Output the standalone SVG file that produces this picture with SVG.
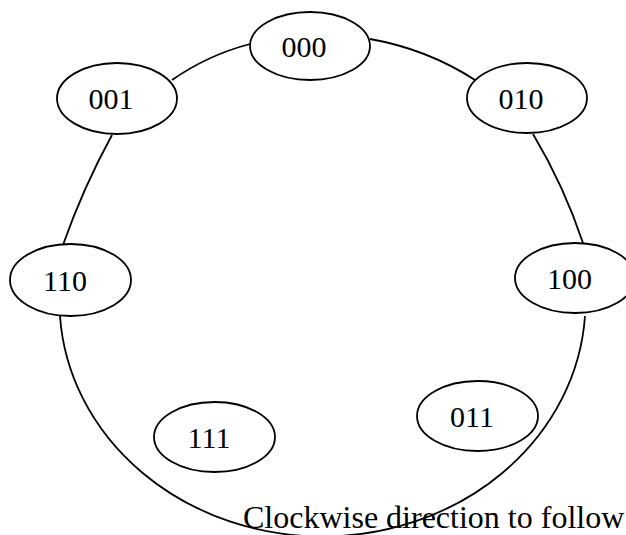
<svg xmlns="http://www.w3.org/2000/svg" width="626" height="535" viewBox="0 0 626 535">
<style>
.n ellipse{fill:#fff;stroke:#000;stroke-width:1.8}
.n text{font-family:"Liberation Serif","Times New Roman",serif;font-size:30px;fill:#000;text-anchor:middle}
.c path{fill:none;stroke:#000;stroke-width:1.8}
.cap{font-family:"Liberation Serif","Times New Roman",serif;font-size:32px;fill:#000}
</style>
<rect width="626" height="535" fill="#fff"/>
<g id="connectors" class="c">
<path d="M172 80 Q208 55 250 44"/>
<path d="M370 39 Q427 49 475 80"/>
<path d="M112 135 Q83 188 63 245"/>
<path d="M533 134 Q564 186 583 243"/>
<path d="M60 316 A263 235 0 0 0 585 316"/>
</g>
<g id="n000" class="n"><ellipse cx="310" cy="46" rx="60" ry="34"/><text x="304" y="57">000</text></g>
<g id="n001" class="n"><ellipse cx="117" cy="98.5" rx="60" ry="35.5"/><text x="111" y="109">001</text></g>
<g id="n010" class="n"><ellipse cx="527" cy="98" rx="60" ry="35"/><text x="521" y="108.5">010</text></g>
<g id="n110" class="n"><ellipse cx="70.5" cy="280" rx="60.5" ry="36"/><text x="65" y="291">110</text></g>
<g id="n100" class="n"><ellipse cx="575" cy="278" rx="60" ry="35"/><text x="569.5" y="289">100</text></g>
<g id="n111" class="n"><ellipse cx="214.5" cy="437" rx="60.5" ry="35"/><text x="209" y="448">111</text></g>
<g id="n011" class="n"><ellipse cx="477.5" cy="416" rx="60.5" ry="35"/><text x="472" y="427">011</text></g>
<text class="cap" x="243" y="528">Clockwise direction to follow</text>
</svg>
